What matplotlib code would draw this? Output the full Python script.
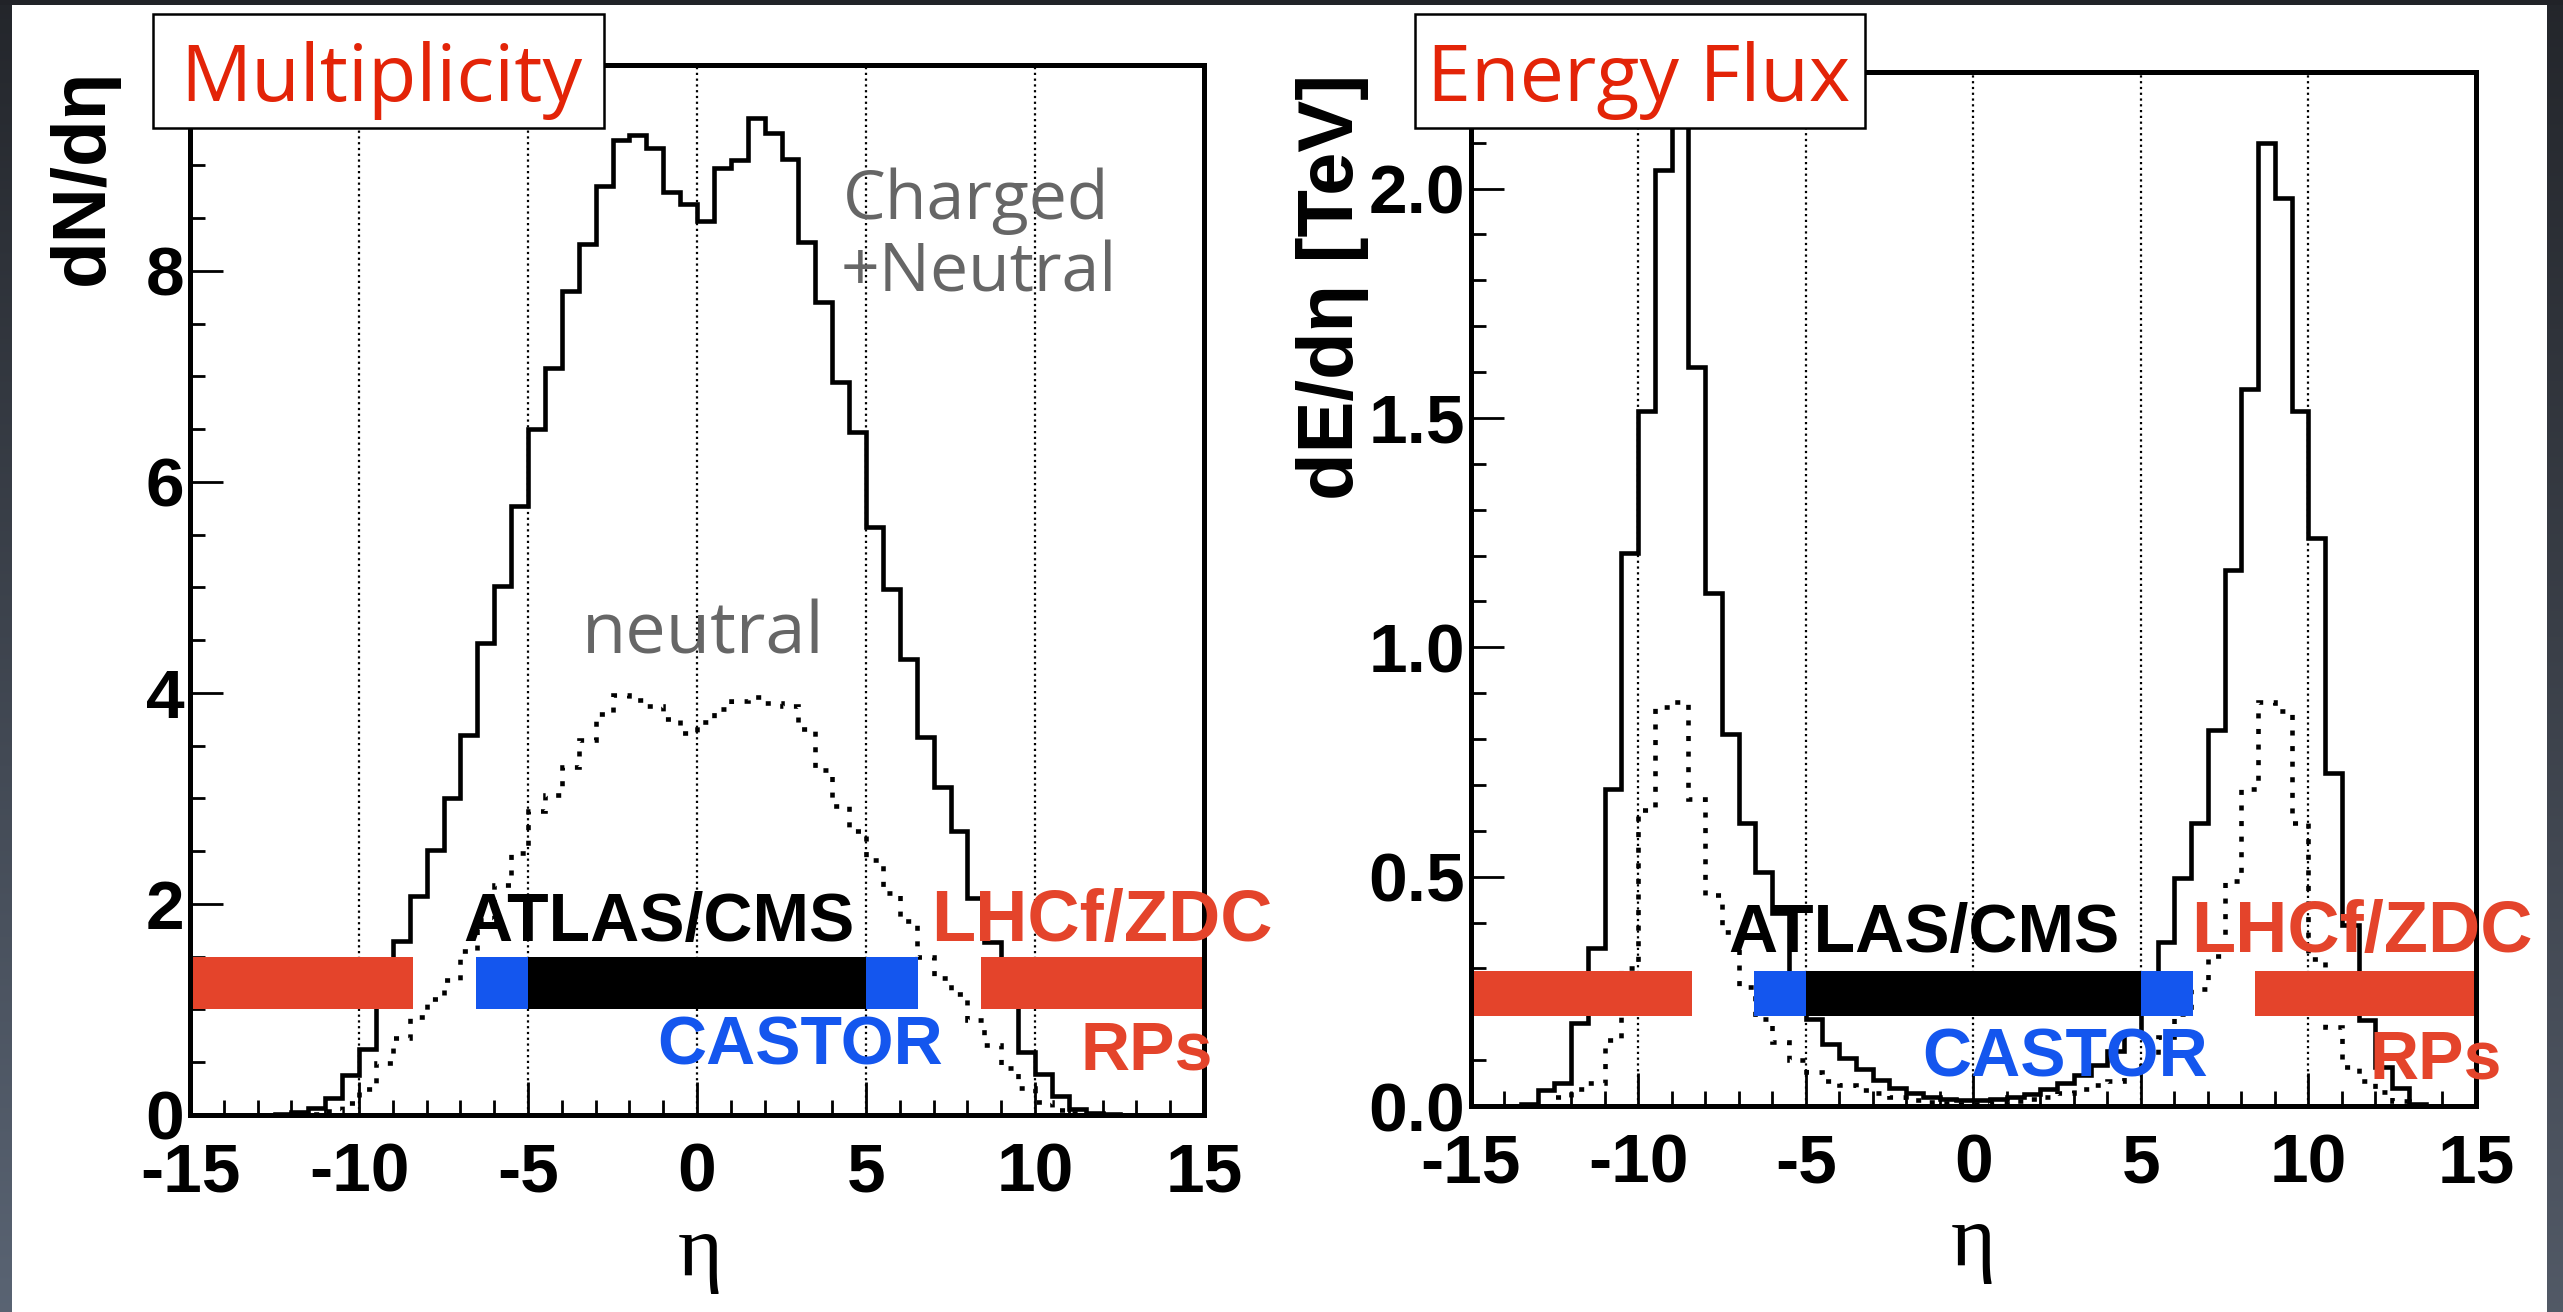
import numpy as np
import matplotlib.pyplot as plt
from matplotlib.patches import Rectangle
from matplotlib.ticker import MultipleLocator, FormatStrFormatter

plt.rcParams['axes.unicode_minus'] = False
plt.rcParams['font.family'] = ['Liberation Sans', 'DejaVu Sans']

# 60 bins of width 0.5 in eta, from -15 to 15
eta_edges = np.linspace(-15, 15, 61)

# dN/deta, charged + neutral
mult_total = [
    0, 0, 0, 0, 0,
    0.01, 0.03, 0.07, 0.16, 0.38, 0.63, 1.15, 1.65, 2.08, 2.51,
    3.00, 3.60, 4.47, 5.01, 5.77, 6.50, 7.08, 7.81, 8.25, 8.80,
    9.24, 9.29, 9.16, 8.75, 8.63, 8.47, 8.97, 9.05, 9.45, 9.31,
    9.06, 8.27, 7.70, 6.95, 6.47, 5.57, 4.98, 4.32, 3.58, 3.11,
    2.69, 2.06, 1.64, 1.15, 0.60, 0.39, 0.18, 0.06, 0.02, 0.01,
    0, 0, 0, 0, 0,
]
# dN/deta, neutral only
mult_neutral = [
    0, 0, 0, 0, 0,
    0, 0, 0.01, 0.04, 0.11, 0.25, 0.49, 0.73, 0.93, 1.10,
    1.28, 1.55, 1.85, 2.18, 2.48, 2.88, 3.03, 3.30, 3.55, 3.80,
    3.98, 3.93, 3.88, 3.75, 3.62, 3.72, 3.85, 3.92, 3.96, 3.90,
    3.88, 3.66, 3.27, 2.93, 2.69, 2.42, 2.10, 1.84, 1.50, 1.30,
    1.15, 0.90, 0.66, 0.45, 0.26, 0.12, 0.05, 0.02, 0.01, 0,
    0, 0, 0, 0, 0,
]
# dE/deta [TeV], charged + neutral
eflux_total = [
    0, 0, 0,
    0.005, 0.035, 0.05, 0.18, 0.344, 0.69, 1.206, 1.516, 2.04, 2.40,
    1.61, 1.118, 0.81, 0.616, 0.51, 0.42, 0.27, 0.19, 0.135, 0.105,
    0.08, 0.057, 0.04, 0.028, 0.02, 0.015, 0.012, 0.012, 0.015, 0.02,
    0.027, 0.036, 0.05, 0.068, 0.09, 0.12, 0.16, 0.25, 0.357, 0.498,
    0.616, 0.82, 1.169, 1.563, 2.099, 1.98, 1.516, 1.239, 0.726, 0.394,
    0.188, 0.084, 0.04, 0.004,
    0, 0, 0,
]
# dE/deta [TeV], neutral only
eflux_neutral = [
    0, 0, 0, 0, 0,
    0.02, 0.038, 0.05, 0.144, 0.30, 0.645, 0.87, 0.88, 0.67, 0.46,
    0.38, 0.26, 0.19, 0.14, 0.10, 0.075, 0.055, 0.045, 0.035, 0.028,
    0.02, 0.014, 0.009, 0.006, 0.004, 0.004, 0.006, 0.01, 0.015, 0.02,
    0.028, 0.036, 0.045, 0.055, 0.075, 0.10, 0.15, 0.20, 0.254, 0.328,
    0.49, 0.69, 0.88, 0.86, 0.616, 0.32, 0.173, 0.084, 0.055, 0.03,
    0.01, 0, 0, 0, 0,
]

# detector acceptance in eta
lhcf_ranges = [(-15, -8.4), (8.4, 15)]
castor_ranges = [(-6.55, -5.0), (5.0, 6.55)]
central_range = (-5.0, 5.0)

xticks = [-15, -10, -5, 0, 5, 10, 15]
xticklabels = ["-15", "-10", "-5", "0", "5", "10", "15"]
grid_eta = [-10, -5, 0, 5, 10]

RED = '#e4442b'
BLUE = '#1456ee'
TITLE_RED = '#e32408'
GRAY = '#666666'

W, H = 2563, 1312
fig = plt.figure(figsize=(W / 100, H / 100), dpi=100)
fig.patch.set_facecolor('white')


def px_rect(x0, y0, x1, y1):
    return [x0 / W, 1 - y1 / H, (x1 - x0) / W, (y1 - y0) / H]


def strip(rect, top, bottom):
    a = fig.add_axes(rect)
    a.axis('off')
    t = np.linspace(0, 1, 256)[:, None, None]
    img = (1 - t) * np.array(top)[None, None, :] + t * np.array(bottom)[None, None, :]
    a.imshow(img, aspect='auto', interpolation='bilinear')


# dark slide border
strip(px_rect(0, 0, 12, H), (0.14, 0.15, 0.17), (0.35, 0.39, 0.45))
strip(px_rect(2547, 0, W, H), (0.14, 0.15, 0.17), (0.32, 0.35, 0.40))
strip(px_rect(0, 0, W, 5), (0.13, 0.14, 0.16), (0.13, 0.14, 0.16))

ax1 = fig.add_axes(px_rect(190, 65, 1204, 1115))
ax2 = fig.add_axes(px_rect(1470.5, 72, 2476, 1106))


def draw_panel(ax, total, neutral, ymax, bar_lo, bar_hi):
    for x in grid_eta:
        ax.axvline(x, color='black', lw=1.6, ls=(0, (1.0, 1.6)), zorder=1)
    ax.stairs(total, eta_edges, baseline=None, edgecolor='black', lw=3.3, zorder=2)
    ax.stairs(neutral, eta_edges, baseline=None, edgecolor='black', lw=3.3,
              ls=(0, (1.1, 2.3)), zorder=2)
    h = bar_hi - bar_lo
    yc = (bar_lo + bar_hi) / 2
    for a, b in lhcf_ranges:
        ax.barh(yc, b - a, left=a, height=h, color=RED, lw=0, zorder=2.2)
    for a, b in castor_ranges:
        ax.barh(yc, b - a, left=a, height=h, color=BLUE, lw=0, zorder=2.2)
    a, b = central_range
    ax.barh(yc, b - a, left=a, height=h, color='black', lw=0, zorder=2.2)

    ax.set_xlim(-15, 15)
    ax.set_ylim(0, ymax)
    ax.set_xticks(xticks)
    ax.set_xticklabels(xticklabels)
    ax.xaxis.set_minor_locator(MultipleLocator(1))
    for s in ax.spines.values():
        s.set_linewidth(3.6)
    ax.tick_params(which='both', direction='in', top=False, right=False, width=2)
    ax.tick_params(which='major', length=24, labelsize=50)
    ax.tick_params(which='minor', length=11)
    ax.tick_params(axis='x', pad=19)
    ax.tick_params(axis='y', pad=4)
    for lbl in ax.get_xticklabels() + ax.get_yticklabels():
        lbl.set_fontweight('bold')


draw_panel(ax1, mult_total, mult_neutral, 9.95, 1.0, 1.5)
ax1.yaxis.set_major_locator(MultipleLocator(2))
ax1.yaxis.set_minor_locator(MultipleLocator(0.5))
for lbl in ax1.get_yticklabels():
    lbl.set_fontweight('bold')

draw_panel(ax2, eflux_total, eflux_neutral, 2.254, 0.196, 0.295)
ax2.yaxis.set_major_locator(MultipleLocator(0.5))
ax2.yaxis.set_minor_locator(MultipleLocator(0.1))
ax2.yaxis.set_major_formatter(FormatStrFormatter('%.1f'))
for lbl in ax2.get_yticklabels():
    lbl.set_fontweight('bold')

# detector names
det_fs = 49
ax1.text(-1.12, 1.65, 'ATLAS/CMS', ha='center', va='baseline', fontsize=det_fs,
         weight='bold', color='black', zorder=4)
ax1.text(11.97, 1.65, 'LHCf/ZDC', ha='center', va='baseline', fontsize=52,
         weight='bold', color=RED, zorder=4)
ax1.text(3.05, 0.48, 'CASTOR', ha='center', va='baseline', fontsize=det_fs,
         weight='bold', color=BLUE, zorder=4)
ax1.text(13.31, 0.43, 'RPs', ha='center', va='baseline', fontsize=det_fs,
         weight='bold', color=RED, zorder=4)

ax2.text(-1.46, 0.336, 'ATLAS/CMS', ha='center', va='baseline', fontsize=det_fs,
         weight='bold', color='black', zorder=4)
ax2.text(11.6, 0.336, 'LHCf/ZDC', ha='center', va='baseline', fontsize=52,
         weight='bold', color=RED, zorder=4)
ax2.text(2.75, 0.065, 'CASTOR', ha='center', va='baseline', fontsize=det_fs,
         weight='bold', color=BLUE, zorder=4)
ax2.text(13.79, 0.061, 'RPs', ha='center', va='baseline', fontsize=det_fs,
         weight='bold', color=RED, zorder=4)

# curve labels
ax1.text(4.32, 8.49, 'Charged', ha='left', va='baseline', fontsize=49,
         family='Open Sans', color=GRAY, zorder=4)
ax1.text(4.26, 7.80, '+Neutral', ha='left', va='baseline', fontsize=49,
         family='Open Sans', color=GRAY, zorder=4)
ax1.text(-3.40, 4.37, 'neutral', ha='left', va='baseline', fontsize=52,
         family='Open Sans', color=GRAY, zorder=4)

# axis titles
ax1.text(-0.105, 0.997, 'dN/d\u03b7', transform=ax1.transAxes, rotation=90,
         ha='center', va='top', fontsize=55, weight='bold')
ax2.text(-0.137, 0.998, 'dE/d\u03b7 [TeV]', transform=ax2.transAxes, rotation=90,
         ha='center', va='top', fontsize=56, weight='bold')
ax1.text(0.503, -0.152, '\u03b7', transform=ax1.transAxes, ha='center',
         va='baseline', fontsize=62, family='Liberation Serif')
ax2.text(0.5, -0.154, '\u03b7', transform=ax2.transAxes, ha='center',
         va='baseline', fontsize=62, family='Liberation Serif')

# boxed panel titles
for (x0, x1, xc, title) in [(153, 604, 381, 'Multiplicity'),
                            (1415, 1865, 1639, 'Energy Flux')]:
    fig.add_artist(Rectangle((x0 / W, 1 - 128 / H), (x1 - x0) / W, 114 / H,
                             transform=fig.transFigure, facecolor='white',
                             edgecolor='black', lw=1.8, zorder=10))
    fig.text(xc / W, 1 - 101 / H, title, ha='center', va='baseline',
             fontsize=57, family='Open Sans', color=TITLE_RED, zorder=11)

fig.savefig('out.png', dpi=100, facecolor='white')
